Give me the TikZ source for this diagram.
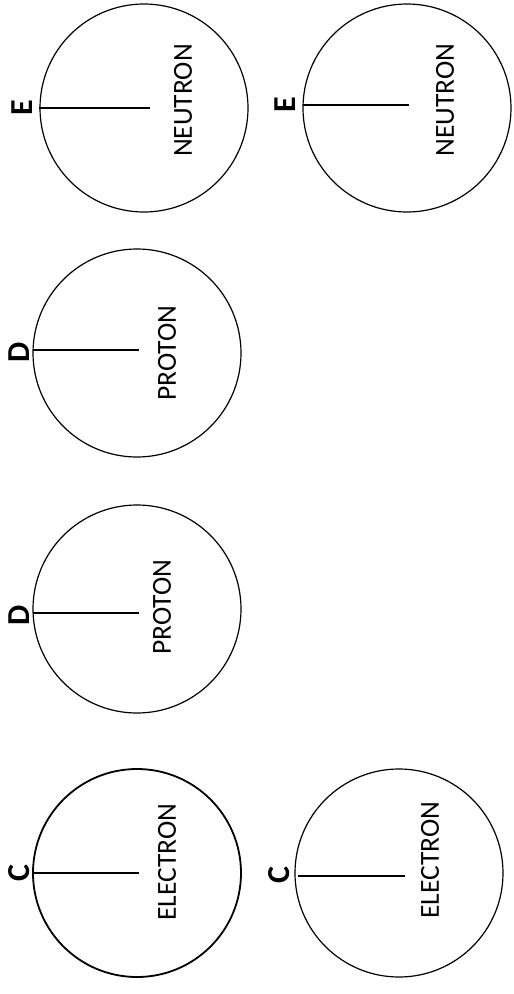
\documentclass[tikz,border=0pt]{standalone}
\usepackage{fontspec}
\setmainfont{Carlito}
\begin{document}
\begin{tikzpicture}[x=1pt,y=-1pt,
  ball/.style={draw,circle,minimum size=208pt,inner sep=0pt,line width=1.2pt},
  radius line/.style={line width=1.2pt},
  particle/.style={rotate=90,font=\fontsize{27.5}{28}\selectfont,inner sep=0pt},
  letter/.style={rotate=90,font=\fontsize{32}{32}\selectfont\bfseries,inner sep=0pt}]
\useasboundingbox (0,0) rectangle (514,994);
% top row: E
\node[ball] (e1) at (144,108) {};
\node[ball] (e2) at (407,108) {};
\coordinate (e1end) at (150,108);
\coordinate (e2end) at (409,105);
\draw[radius line] (e1.west) -- (e1end);
\draw[radius line] (303,105) -- (e2end);
\node[particle] (n1) at (183,100.5) {NEUTRON};
\node[particle] (n2) at (445,100) {NEUTRON};
\node[letter] (le1) at (22,108) {E};
\node[letter] (le2) at (285,105) {E};
% middle: D
\node[ball] (d1) at (137,353) {};
\node[ball] (d2) at (137,609) {};
\coordinate (d1end) at (139,350);
\coordinate (d2end) at (139,613);
\draw[radius line] (33,350) -- (d1end);
\draw[radius line] (33,613) -- (d2end);
\node[particle] (p1) at (167,353) {PROTON};
\node[particle] (p2) at (162,607) {PROTON};
\node[letter] (ld1) at (19,352) {D};
\node[letter] (ld2) at (19,615) {D};
% bottom: C
\node[ball,line width=1.8pt] (c1) at (137,873) {};
\node[ball] (c2) at (399,873) {};
\coordinate (c1end) at (139,873);
\coordinate (c2end) at (405,876);
\draw[radius line] (c1.west) -- (c1end);
\draw[radius line] (298,876) -- (c2end);
\node[particle] (el1) at (167,862) {ELECTRON};
\node[particle] (el2) at (430,860) {ELECTRON};
\node[letter] (lc1) at (19,873) {C};
\node[letter] (lc2) at (279,875) {C};
\end{tikzpicture}
\end{document}
